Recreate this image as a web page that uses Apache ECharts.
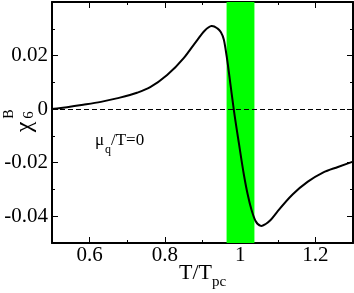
<!DOCTYPE html>
<html><head><meta charset="utf-8">
<script src="https://cdn.jsdelivr.net/npm/echarts@6/dist/echarts.min.js"></script>
<style>html,body{margin:0;padding:0;background:#fff}#c{width:354px;height:293px}</style>
</head><body><div id="c"></div>
<script>
const xValues = [0.50, 0.54, 0.583, 0.63, 0.672, 0.726, 0.761, 0.806, 0.850, 0.886, 0.905, 0.924, 0.938, 0.948, 0.957, 0.965, 0.975, 0.983, 0.997, 1.010, 1.020, 1.030, 1.041, 1.055, 1.068, 1.081, 1.100, 1.140, 1.180, 1.220, 1.260, 1.300];
const yValues = [0.0000, 0.0007, 0.0016, 0.0027, 0.0040, 0.0061, 0.0082, 0.0127, 0.0190, 0.0258, 0.0292, 0.0310, 0.0303, 0.0289, 0.0258, 0.0190, 0.0085, 0.0000, -0.0130, -0.0245, -0.0318, -0.0375, -0.0418, -0.0436, -0.0429, -0.0414, -0.0381, -0.0318, -0.0271, -0.0237, -0.0216, -0.0196];
const xMajorTicks = [0.6, 0.8, 1.0, 1.2];
const xMinorTicks = [0.5, 0.7, 0.9, 1.1, 1.3];
const yMajorTicks = [-0.04, -0.02, 0, 0.02];
const yMinorTicks = [-0.05, -0.03, -0.01, 0.01, 0.03];
const bandRange = [0.964, 1.038];
const xRange = [0.5, 1.3];
const yRange = [-0.05, 0.04];

const FONT = 'Liberation Serif';
const chart = echarts.init(document.getElementById('c'), null, {renderer: 'canvas'});

function xAx(pos, ticks, len, labels) {
  return {
    type: 'value', position: pos, min: xRange[0], max: xRange[1],
    axisLine: {show: labels !== null, onZero: false, lineStyle: {color: '#000', width: 2}},
    axisTick: {show: true, inside: true, length: len, customValues: ticks, lineStyle: {color: '#000', width: 1}},
    axisLabel: labels ? {show: true, customValues: ticks, margin: 2, color: '#000', fontFamily: FONT, fontSize: 21,
      formatter: v => (Math.abs(v - 1) < 1e-9 ? '1' : String(+v.toFixed(1)))} : {show: false},
    splitLine: {show: false}
  };
}
function yAx(pos, ticks, len, labels) {
  return {
    type: 'value', position: pos, min: yRange[0], max: yRange[1],
    axisLine: {show: labels !== null, onZero: false, lineStyle: {color: '#000', width: 2}},
    axisTick: {show: true, inside: true, length: len, customValues: ticks, lineStyle: {color: '#000', width: 1}},
    axisLabel: labels ? {show: true, customValues: ticks, margin: 4, color: '#000', fontFamily: FONT, fontSize: 21,
      formatter: v => (Math.abs(v) < 1e-9 ? '0' : v.toFixed(2))} : {show: false},
    splitLine: {show: false}
  };
}

const data = xValues.map((x, i) => [x, yValues[i]]);

// smooth C1 cubic through the points, positioned by the chart's own scales (api.coord)
function renderCurve(params, api) {
  if (params.dataIndex !== 0) return null;
  const p = data.map(d => api.coord(d));
  const n = p.length;
  const m = new Array(n);
  for (let i = 0; i < n; i++) {
    if (i === 0) m[i] = (p[1][1] - p[0][1]) / (p[1][0] - p[0][0]);
    else if (i === n - 1) m[i] = (p[i][1] - p[i - 1][1]) / (p[i][0] - p[i - 1][0]);
    else {
      const h0 = p[i][0] - p[i - 1][0], h1 = p[i + 1][0] - p[i][0];
      const s0 = (p[i][1] - p[i - 1][1]) / h0, s1 = (p[i + 1][1] - p[i][1]) / h1;
      m[i] = (s0 * h1 + s1 * h0) / (h0 + h1);
    }
  }
  let d = 'M' + p[0][0] + ',' + p[0][1];
  for (let i = 0; i < n - 1; i++) {
    const h = (p[i + 1][0] - p[i][0]) / 3;
    d += ' C' + (p[i][0] + h) + ',' + (p[i][1] + m[i] * h) + ' ' +
      (p[i + 1][0] - h) + ',' + (p[i + 1][1] - m[i + 1] * h) + ' ' + p[i + 1][0] + ',' + p[i + 1][1];
  }
  return {type: 'path', shape: {pathData: d}, style: {stroke: '#000', lineWidth: 2, fill: 'none'}};
}

chart.setOption({
  animation: false,
  backgroundColor: '#fff',
  grid: {left: 52, right: 1, top: 2, bottom: 50, containLabel: false},
  xAxis: [
    xAx('bottom', xMajorTicks, 6, true),
    xAx('bottom', xMinorTicks, 3, null),
    xAx('top', xMajorTicks, 6, false),
    xAx('top', xMinorTicks, 3, null)
  ],
  yAxis: [
    yAx('left', yMajorTicks, 6, true),
    yAx('left', yMinorTicks, 3, null),
    yAx('right', yMajorTicks, 6, false),
    yAx('right', yMinorTicks, 3, null)
  ],
  series: [
    {
      type: 'line', data: [], z: 1, silent: true,
      markArea: {silent: true, itemStyle: {color: '#00ff00', opacity: 1},
        data: [[{xAxis: bandRange[0]}, {xAxis: bandRange[1]}]]}
    },
    {
      type: 'line', data: [], z: 2, silent: true,
      markLine: {silent: true, symbol: 'none', label: {show: false},
        lineStyle: {color: '#000', width: 1, type: [5, 3]},
        data: [{yAxis: 0}]}
    },
    {
      type: 'custom', data: data, z: 3, silent: true, clip: false,
      renderItem: renderCurve
    }
  ],
  graphic: [
    {type: 'text', x: 179, y: 273, style: {text: 'T/T', font: '22px "Liberation Serif"', fill: '#000', align: 'left', verticalAlign: 'middle'}},
    {type: 'text', x: 212, y: 282, style: {text: 'pc', font: '15px "Liberation Serif"', fill: '#000', align: 'left', verticalAlign: 'middle'}},
    {type: 'text', x: 25, y: 127, rotation: Math.PI / 2, style: {text: 'χ', font: '24px "Liberation Serif"', fill: '#000', align: 'center', verticalAlign: 'middle'}},
    {type: 'text', x: 29, y: 115, rotation: Math.PI / 2, style: {text: '6', font: '15px "Liberation Serif"', fill: '#000', align: 'center', verticalAlign: 'middle'}},
    {type: 'text', x: 9, y: 114, rotation: Math.PI / 2, style: {text: 'B', font: '14px "Liberation Serif"', fill: '#000', align: 'center', verticalAlign: 'middle'}},
    {type: 'text', x: 95, y: 141, style: {text: 'μ', font: '17px "Liberation Serif"', fill: '#000', align: 'left', verticalAlign: 'middle'}},
    {type: 'text', x: 105, y: 150, style: {text: 'q', font: '12px "Liberation Serif"', fill: '#000', align: 'left', verticalAlign: 'middle'}},
    {type: 'text', x: 111, y: 141, style: {text: '/T=0', font: '17px "Liberation Serif"', fill: '#000', align: 'left', verticalAlign: 'middle'}}
  ]
});
</script></body></html>
